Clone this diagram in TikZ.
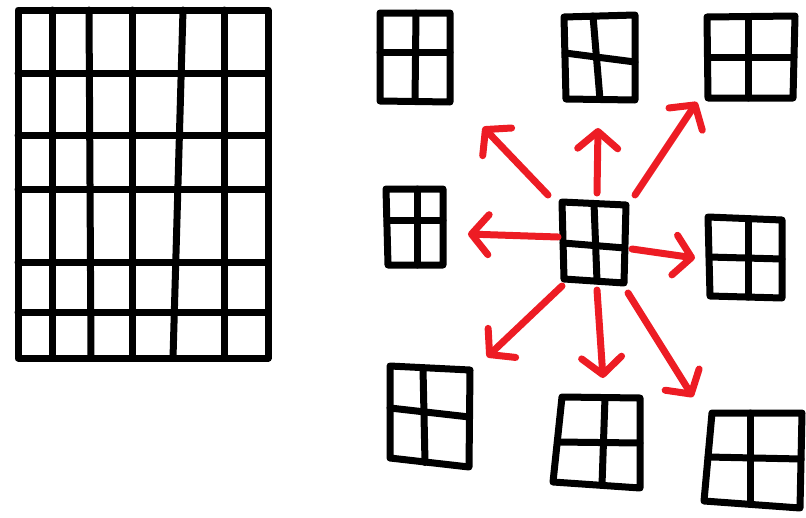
\documentclass[tikz,border=0pt]{standalone}
\usepackage{xcolor}
\usetikzlibrary{arrows.meta}
\definecolor{inkblack}{HTML}{000000}
\definecolor{inkred}{HTML}{ED1C24}

\begin{document}
\begin{tikzpicture}[x=1pt,y=-1pt,
  inkline/.style={draw=inkblack,line width=7pt,line cap=round,line join=round},
  spread/.style={draw=inkred,line width=7pt,line cap=round,line join=round,
    -{Straight Barb[length=17pt,width=40pt,line width=7pt,round]}}]
  \useasboundingbox (0,0) rectangle (806,517);

  % big grid on the left
  \draw[inkline] (18,10) rectangle (268,358);
  \foreach \xt/\xb in {52/52,89/91,132/132,183/173,224/224} {
    \draw[inkline] (\xt,10) -- (\xb,358);
  }
  \foreach \y in {73,135,189,262,312} {
    \draw[inkline] (18,\y) -- (268,\y);
  }

  % small windows: corners tl, tr, br, bl, then cross
  \foreach \nm/\ax/\ay/\bx/\by/\cx/\cy/\dx/\dy/\vt/\vb/\hl/\hr in {
    wa/380/13/450/13/450/102/380/101/416/415/52/52,
    wb/564/17/635/15/635/100/566/99/593/600/53/62,
    wc/707/17/795/16/793/98/708/98/748/748/57/57,
    wd/386/189/443/189/443/265/388/265/417/417/220/220,
    mid/562/202/626/205/624/283/564/279/594/597/243/248,
    we/708/217/782/220/782/298/710/296/748/748/257/259,
    wf/390/366/470/370/469/467/390/458/423/425/408/417,
    wg/562/397/640/398/640/488/553/482/605/602/442/443,
    wh/712/413/802/413/800/508/704/501/750/750/457/459} {
    \draw[inkline] (\ax,\ay) -- (\bx,\by) -- (\cx,\cy) -- (\dx,\dy) -- cycle;
    \draw[inkline] (\vt,{(\ay+\by)/2}) -- (\vb,{(\cy+\dy)/2});
    \draw[inkline] ({(\ax+\dx)/2},\hl) -- ({(\bx+\cx)/2},\hr);
    \coordinate (\nm) at ({(\ax+\cx)/2},{(\ay+\cy)/2});
  }

  % arrows out of the middle window
  \foreach \nm/\sx/\sy/\tx/\ty in {
    ul/548/195/483/127,
    up/597/193/598/128,
    ur/635/195/697/102,
    lf/558/237/468/234,
    rt/632/249/695/258,
    dl/562/286/487/357,
    dn/597/290/603/378,
    dr/628/293/693/397} {
    \coordinate (\nm-from) at (\sx,\sy);
    \coordinate (\nm-to) at (\tx,\ty);
    \draw[spread] (\nm-from) -- (\nm-to);
  }
\end{tikzpicture}
\end{document}
